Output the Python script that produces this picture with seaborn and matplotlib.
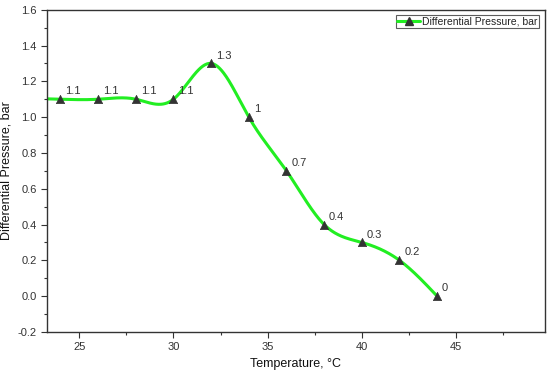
import numpy as np
import pandas as pd
import seaborn as sns
import matplotlib
matplotlib.use("Agg")
import matplotlib.pyplot as plt
from matplotlib.lines import Line2D
from matplotlib.ticker import MultipleLocator

# 数据
temperature = [24, 26, 28, 30, 32, 34, 36, 38, 40, 42, 44]
pressure = [1.1, 1.1, 1.1, 1.1, 1.3, 1.0, 0.7, 0.4, 0.3, 0.2, 0.0]
point_labels = ["1.1", "1.1", "1.1", "1.1", "1.3", "1", "0.7", "0.4", "0.3", "0.2", "0"]
series_name = "Differential Pressure, bar"

df = pd.DataFrame({"Temperature": temperature, "Pressure": pressure})


# 自然三次样条，用来画平滑曲线（类似 Origin 的 spline 连线）
def natural_spline(x, y, xs):
    x = np.asarray(x, float)
    y = np.asarray(y, float)
    n = len(x)
    h = np.diff(x)
    A = np.zeros((n, n))
    b = np.zeros(n)
    A[0, 0] = 1
    A[-1, -1] = 1
    for i in range(1, n - 1):
        A[i, i - 1] = h[i - 1]
        A[i, i] = 2 * (h[i - 1] + h[i])
        A[i, i + 1] = h[i]
        b[i] = 6 * ((y[i + 1] - y[i]) / h[i] - (y[i] - y[i - 1]) / h[i - 1])
    M = np.linalg.solve(A, b)
    idx = np.clip(np.searchsorted(x, xs) - 1, 0, n - 2)
    x0, x1 = x[idx], x[idx + 1]
    hh = x1 - x0
    t0 = x1 - xs
    t1 = xs - x0
    return (M[idx] * t0 ** 3 / (6 * hh) + M[idx + 1] * t1 ** 3 / (6 * hh)
            + (y[idx] / hh - M[idx] * hh / 6) * t0
            + (y[idx + 1] / hh - M[idx + 1] * hh / 6) * t1)


sns.set_style("ticks")
plt.rcParams["font.family"] = ["Liberation Sans", "DejaVu Sans"]
plt.rcParams["font.size"] = 8

fig, ax = plt.subplots(figsize=(5.5, 3.73), dpi=100)
fig.subplots_adjust(left=0.086, right=0.99, top=0.974, bottom=0.11)

xlim = (23.3, 49.7)
xs = np.linspace(xlim[0], temperature[-1], 600)
smooth = pd.DataFrame({"Temperature": xs, "Pressure": natural_spline(temperature, pressure, xs)})

line_color = "#22ee22"
marker_color = "#333333"
text_color = "#333333"

sns.lineplot(data=smooth, x="Temperature", y="Pressure", ax=ax, color=line_color,
             linewidth=2.2, sort=False, zorder=2)
sns.scatterplot(data=df, x="Temperature", y="Pressure", ax=ax, marker="^", s=36,
                color=marker_color, edgecolor=marker_color, zorder=3)

for xv, yv, lab in zip(temperature, pressure, point_labels):
    ax.annotate(lab, (xv, yv), xytext=(3.5, 3.5), textcoords="offset points",
                fontsize=8, color=text_color)

ax.set_xlim(*xlim)
ax.set_ylim(-0.2, 1.6)
ax.xaxis.set_major_locator(MultipleLocator(5))
ax.xaxis.set_minor_locator(MultipleLocator(2.5))
ax.yaxis.set_major_locator(MultipleLocator(0.2))
ax.yaxis.set_minor_locator(MultipleLocator(0.1))
ax.yaxis.set_major_formatter(matplotlib.ticker.FormatStrFormatter("%.1f"))
ax.tick_params(which="major", length=4, width=0.8, labelsize=8, labelcolor=text_color,
               color="#333333")
ax.tick_params(which="minor", length=2, width=0.8, color="#333333")

for sp in ax.spines.values():
    sp.set_linewidth(1.0)
    sp.set_color("#333333")

ax.set_xlabel("Temperature, °C", fontsize=9, color="#111111")
ax.set_ylabel("Differential Pressure, bar", fontsize=9, color="#111111")

handle = Line2D([], [], color=line_color, linewidth=2.2, marker="^",
                markersize=6, markerfacecolor=marker_color, markeredgecolor=marker_color)
leg = ax.legend([handle], [series_name], loc="upper right", fontsize=7.5,
                frameon=True, fancybox=False, handlelength=2.2, borderpad=0.15,
                handletextpad=0.2, borderaxespad=0.5)
leg.get_frame().set_edgecolor("#333333")
leg.get_frame().set_linewidth(0.8)
for t in leg.get_texts():
    t.set_color("#222222")

fig.savefig("out.png", dpi=100)
